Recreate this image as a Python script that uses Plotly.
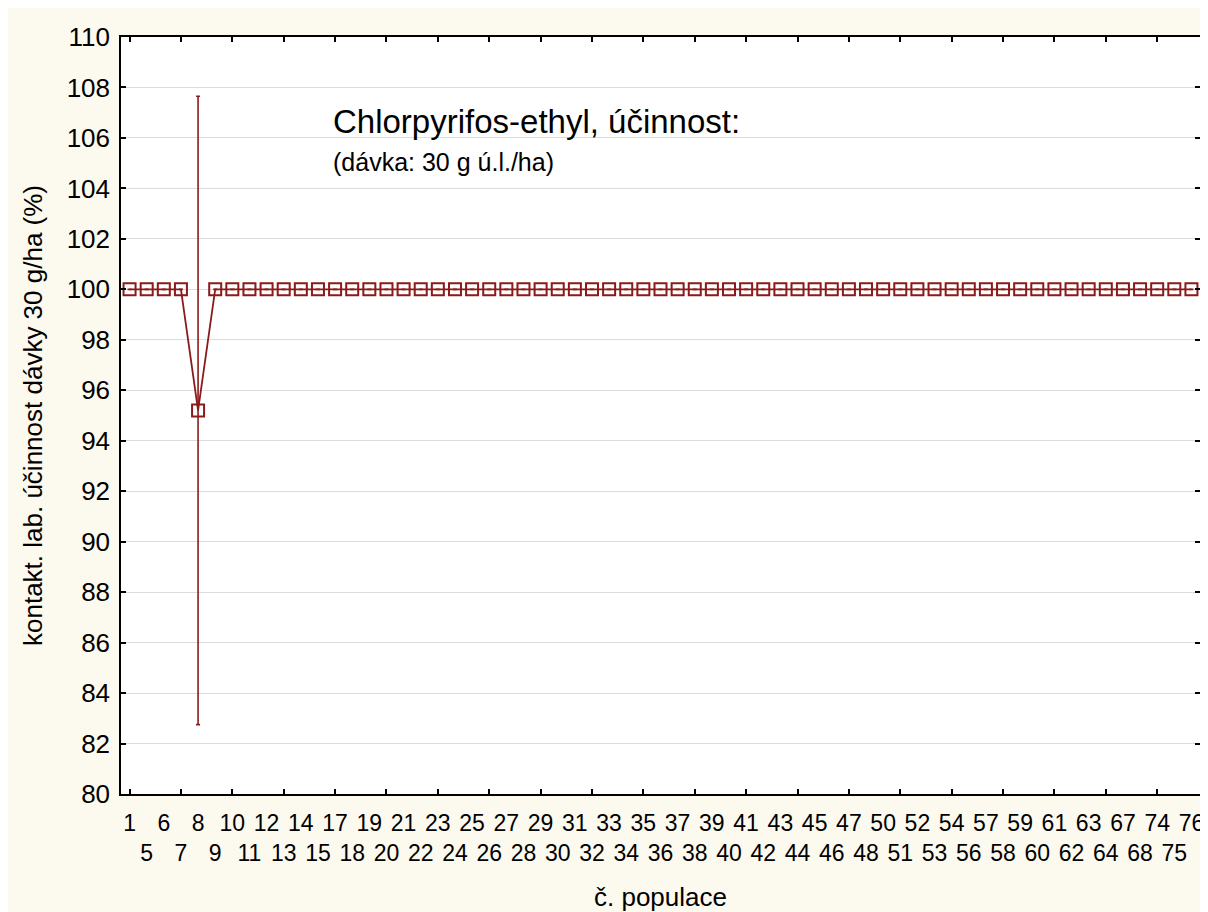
import plotly.graph_objects as go

# population numbers (categories on the x axis)
populations = [1, 5, 6, 7, 8, 9, 10, 11, 12, 13, 14, 15,
               17, 18, 19, 20, 21, 22, 23, 24, 25, 26, 27, 28, 29, 30,
               31, 32, 33, 34, 35, 36, 37, 38, 39, 40, 41, 42, 43, 44,
               45, 46, 47, 48, 50, 51, 52, 53, 54, 56, 57, 58, 59, 60,
               61, 62, 63, 64, 67, 68, 74, 75, 76]
# mean efficacy (%)
efficacy = [100.0] * len(populations)
efficacy[populations.index(8)] = 95.2
# error (half-length of the interval) where present
err_pop = 8
err_val = 12.45

y_ticks = list(range(80, 111, 2))

DARK_RED = "#8b1a1a"
FONT = "Liberation Sans, Arial, sans-serif"

idx = list(range(len(populations)))
ticktext = [str(p) if i % 2 == 0 else " <br>" + str(p) for i, p in enumerate(populations)]
errors = [err_val if p == err_pop else None for p in populations]

fig = go.Figure()
# invisible copy on the tick-mark axis so that it is drawn
fig.add_trace(go.Scatter(
    x=idx, y=efficacy, xaxis="x2", mode="lines",
    line=dict(color="rgba(0,0,0,0)", width=0),
    showlegend=False, hoverinfo="skip",
))
fig.add_trace(go.Scatter(
    x=idx, y=efficacy, mode="lines+markers",
    line=dict(color=DARK_RED, width=1.8),
    marker=dict(symbol="square-open", size=12, color=DARK_RED, line=dict(width=2, color=DARK_RED)),
    error_y=dict(type="data", array=errors, visible=True, color=DARK_RED, thickness=1.6, width=2),
    showlegend=False, hoverinfo="skip",
))

xr = [-0.5, len(populations) - 0.5]

fig.update_layout(
    width=1200, height=904,
    paper_bgcolor="#fcf9ef", plot_bgcolor="#ffffff",
    margin=dict(l=113, r=4, t=29, b=117),
    font=dict(family=FONT, color="#000000"),
    xaxis=dict(
        range=xr, tickmode="array", tickvals=idx, ticktext=ticktext,
        ticks="", showgrid=False, zeroline=False,
        showline=True, linecolor="#000000", linewidth=1.5, mirror=True,
        tickfont=dict(size=23, family=FONT), tickangle=0, ticklabelstandoff=8,
        title=dict(text="č. populace", font=dict(size=26, family=FONT), standoff=24),
    ),
    xaxis2=dict(
        range=xr, overlaying="x", anchor="y", side="bottom",
        tickmode="array", tickvals=idx[::3], showticklabels=False,
        ticks="inside", ticklen=5, tickwidth=1.5, tickcolor="#000000",
        showline=True, linecolor="#000000", linewidth=1.5, mirror="ticks",
        showgrid=False, zeroline=False,
    ),
    yaxis=dict(
        range=[80, 110], tickmode="array", tickvals=y_ticks,
        ticks="inside", ticklen=5, tickwidth=1.5, tickcolor="#000000",
        showline=True, linecolor="#000000", linewidth=1.5, mirror="ticks",
        showgrid=True, gridcolor="#dcdcdc", gridwidth=1, zeroline=False,
        tickfont=dict(size=26, family=FONT), ticklabelstandoff=4,
        title=dict(text="kontakt. lab. účinnost dávky 30 g/ha (%)", font=dict(size=26, family=FONT), standoff=17),
    ),
    annotations=[
        dict(text="Chlorpyrifos-ethyl, účinnost:", xref="paper", yref="paper",
             x=0.195, y=0.888, xanchor="left", yanchor="middle", showarrow=False,
             font=dict(size=33, family=FONT)),
        dict(text="(dávka: 30 g ú.l./ha)", xref="paper", yref="paper",
             x=0.195, y=0.835, xanchor="left", yanchor="middle", showarrow=False,
             font=dict(size=25, family=FONT)),
    ],
)

fig.write_html("out.html")
